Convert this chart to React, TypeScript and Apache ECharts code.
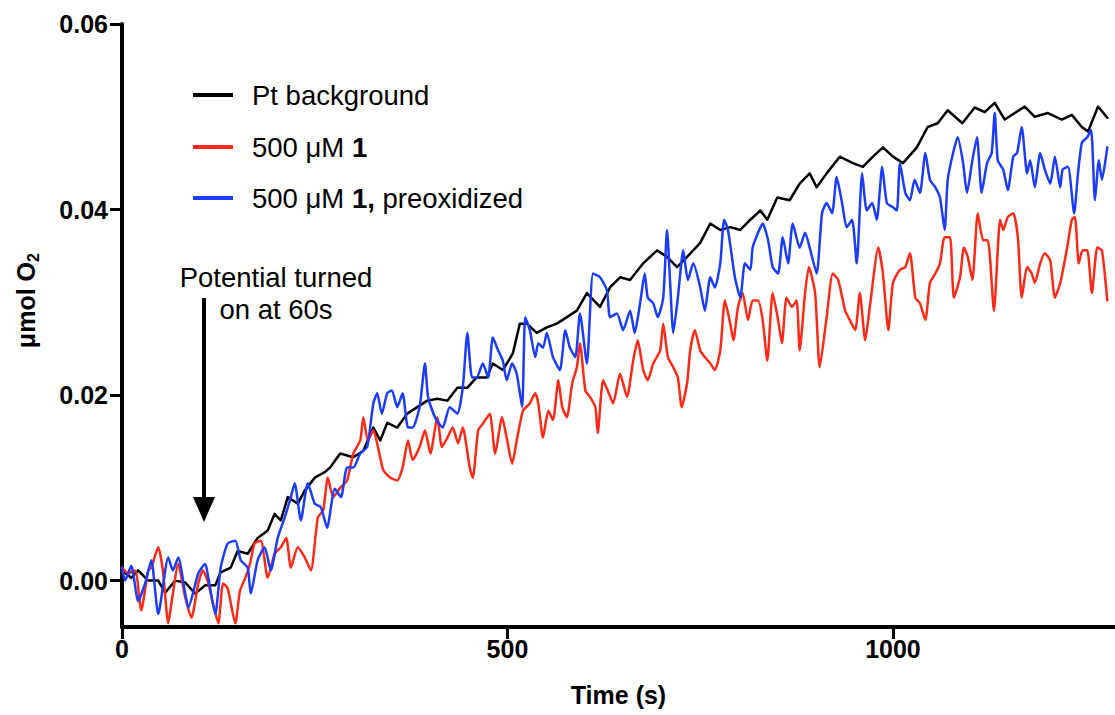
import React, { useEffect, useRef } from "react";
import * as echarts from "echarts";

// Time (s) / µmol O2 pairs
const ptBackground: [number, number][] = [
  [0, 0.0011], [12, 0.0003], [21, 0.0011], [34, 0.0], [47, 0.0], [56, -0.0013], [69, 0.0], [82, -0.0002],
  [95, -0.0014], [108, -0.0005], [121, -0.0005], [128, 0.0009], [141, 0.0014], [150, 0.0032], [163, 0.0029],
  [176, 0.0046], [189, 0.0054], [198, 0.0072], [206, 0.0065], [215, 0.009], [228, 0.0083], [237, 0.0097],
  [250, 0.0111], [263, 0.0117], [270, 0.0122], [283, 0.0137], [300, 0.0133], [313, 0.014], [326, 0.0165],
  [335, 0.0151], [344, 0.017], [357, 0.0165], [370, 0.018], [383, 0.0187], [396, 0.0194], [409, 0.0196],
  [422, 0.0194], [435, 0.0208], [448, 0.0208], [460, 0.0219], [473, 0.0219], [481, 0.0234], [494, 0.0227],
  [507, 0.0245], [516, 0.0277], [525, 0.0277], [538, 0.0267], [551, 0.0273], [564, 0.0277], [577, 0.0284],
  [590, 0.0291], [603, 0.031], [620, 0.0295], [633, 0.0316], [646, 0.0327], [659, 0.0324], [676, 0.0342],
  [694, 0.0356], [707, 0.0349], [720, 0.0338], [733, 0.0349], [750, 0.0364], [763, 0.0385], [776, 0.0378],
  [789, 0.0381], [802, 0.0378], [815, 0.0389], [828, 0.0399], [837, 0.0389], [850, 0.0413], [866, 0.041],
  [879, 0.0428], [892, 0.0439], [901, 0.0424], [914, 0.0439], [931, 0.0457], [948, 0.045], [961, 0.0446],
  [974, 0.0457], [987, 0.0467], [1000, 0.0457], [1013, 0.045], [1031, 0.0467], [1045, 0.0489], [1058, 0.0493],
  [1071, 0.0507], [1090, 0.0493], [1106, 0.051], [1119, 0.0505], [1132, 0.0515], [1145, 0.0497], [1158, 0.0504],
  [1171, 0.0511], [1184, 0.05], [1201, 0.0504], [1219, 0.0497], [1232, 0.0502], [1245, 0.0489], [1253, 0.0484],
  [1266, 0.0511], [1278, 0.0499],
];

const compound1: [number, number][] = [
  [0, 0.0014], [8, 0.0008], [17, 0.0011], [25, -0.0032], [34, 0.0011], [38, 0.0014], [47, 0.0036], [53, 0.0011],
  [60, -0.0046], [64, -0.0025], [73, 0.0018], [82, -0.0018], [90, -0.004], [99, -0.0003], [105, 0.0011],
  [112, -0.0003], [118, -0.0025], [125, -0.0046], [131, -0.0003], [137, -0.0008], [147, -0.0046], [153, -0.0011],
  [160, 0.0003], [166, 0.0018], [172, 0.004], [180, 0.0043], [189, 0.0003], [198, 0.0029], [206, 0.0036],
  [213, 0.0046], [219, 0.0014], [228, 0.0036], [237, 0.0025], [245, 0.0011], [254, 0.0068], [261, 0.0076],
  [267, 0.0111], [274, 0.009], [283, 0.01], [292, 0.0108], [300, 0.0137], [309, 0.0151], [313, 0.0176],
  [319, 0.0151], [326, 0.0162], [332, 0.0144], [339, 0.0119], [348, 0.0111], [357, 0.0108], [364, 0.0122],
  [371, 0.0151], [377, 0.013], [386, 0.0144], [393, 0.0162], [400, 0.0137], [409, 0.0176], [415, 0.0144],
  [422, 0.0154], [429, 0.0165], [436, 0.0148], [442, 0.0165], [451, 0.0122], [455, 0.0111], [462, 0.0162],
  [468, 0.0169], [477, 0.018], [484, 0.0137], [493, 0.0176], [499, 0.0154], [506, 0.0126], [512, 0.0151],
  [520, 0.0183], [529, 0.0191], [536, 0.0202], [540, 0.0191], [546, 0.0154], [553, 0.0183], [559, 0.0173],
  [566, 0.0216], [571, 0.0187], [577, 0.0176], [584, 0.0213], [590, 0.023], [594, 0.0256], [601, 0.0205],
  [607, 0.0198], [614, 0.0187], [617, 0.0159], [624, 0.0216], [630, 0.0205], [637, 0.0191], [646, 0.0223],
  [655, 0.0198], [663, 0.0237], [669, 0.0259], [676, 0.0227], [682, 0.0216], [689, 0.0234], [698, 0.0248],
  [702, 0.0277], [708, 0.0241], [715, 0.023], [721, 0.0219], [726, 0.0187], [733, 0.0213], [737, 0.0248],
  [743, 0.027], [750, 0.0248], [756, 0.0241], [763, 0.0234], [769, 0.0227], [776, 0.0248], [782, 0.0302],
  [789, 0.0277], [793, 0.0259], [799, 0.0295], [805, 0.031], [812, 0.0281], [818, 0.0302], [825, 0.0302],
  [831, 0.0281], [837, 0.0237], [844, 0.031], [851, 0.0281], [856, 0.0256], [862, 0.0305], [869, 0.0295],
  [875, 0.0302], [879, 0.0248], [886, 0.031], [891, 0.0338], [899, 0.031], [905, 0.023], [914, 0.0284],
  [922, 0.0331], [929, 0.0324], [938, 0.0291], [944, 0.0281], [951, 0.027], [957, 0.031], [964, 0.0259],
  [970, 0.0295], [981, 0.0359], [987, 0.0331], [994, 0.027], [1000, 0.0321], [1009, 0.0335], [1016, 0.0338],
  [1022, 0.0353], [1029, 0.0305], [1035, 0.0299], [1042, 0.0281], [1048, 0.0321], [1055, 0.0331],
  [1061, 0.0342], [1067, 0.037], [1074, 0.037], [1079, 0.0305], [1087, 0.0327], [1092, 0.0359], [1097, 0.0349],
  [1103, 0.0324], [1110, 0.0396], [1117, 0.0367], [1123, 0.0367], [1131, 0.0291], [1139, 0.0389],
  [1143, 0.0378], [1149, 0.0392], [1156, 0.0396], [1162, 0.037], [1167, 0.0305], [1174, 0.0338], [1180, 0.0331],
  [1184, 0.0321], [1191, 0.0342], [1197, 0.0353], [1204, 0.0345], [1210, 0.0305], [1217, 0.0321], [1226, 0.0359],
  [1232, 0.0389], [1236, 0.0392], [1241, 0.0342], [1246, 0.0356], [1252, 0.0356], [1258, 0.031], [1265, 0.0359],
  [1271, 0.0356], [1278, 0.0302],
];

const compound1Preox: [number, number][] = [
  [0, 0.0014], [4, 0.0], [12, 0.0016], [21, -0.0022], [30, -0.0003], [38, 0.0022], [47, -0.0036], [60, 0.0025],
  [66, 0.0011], [73, 0.0025], [82, -0.0014], [86, -0.0029], [99, 0.0008], [108, 0.0018], [112, 0.0003],
  [121, -0.0036], [128, 0.0014], [137, 0.004], [147, 0.0043], [154, 0.0022], [163, 0.0014], [167, -0.0014],
  [176, 0.0022], [185, 0.0036], [193, 0.0011], [202, 0.0046], [211, 0.0068], [219, 0.009], [224, 0.0105],
  [232, 0.0065], [241, 0.0105], [250, 0.0083], [258, 0.0079], [266, 0.0057], [276, 0.0099], [284, 0.009],
  [292, 0.0122], [300, 0.0122], [309, 0.0137], [318, 0.0144], [326, 0.0191], [331, 0.0202], [337, 0.018],
  [344, 0.0202], [350, 0.0205], [357, 0.0187], [364, 0.0202], [371, 0.0165], [377, 0.0165], [386, 0.0187],
  [393, 0.0234], [397, 0.0198], [406, 0.0176], [416, 0.0165], [425, 0.0187], [435, 0.018], [442, 0.0208],
  [448, 0.0267], [454, 0.0219], [460, 0.0219], [468, 0.0234], [475, 0.0219], [481, 0.0262], [488, 0.0248],
  [494, 0.0237], [499, 0.0216], [506, 0.0234], [512, 0.0223], [519, 0.0187], [523, 0.0284], [529, 0.027],
  [536, 0.0241], [540, 0.0256], [546, 0.0251], [551, 0.0267], [559, 0.0241], [568, 0.0227], [575, 0.027],
  [581, 0.0251], [588, 0.0241], [594, 0.0288], [603, 0.0234], [611, 0.0331], [620, 0.0327], [629, 0.0313],
  [633, 0.0284], [642, 0.0288], [650, 0.027], [659, 0.0291], [665, 0.0267], [672, 0.0299], [678, 0.0331],
  [682, 0.0305], [689, 0.0299], [695, 0.0284], [702, 0.0305], [707, 0.0378], [711, 0.0321], [715, 0.0267],
  [721, 0.0305], [728, 0.0356], [734, 0.0324], [741, 0.0342], [750, 0.0316], [756, 0.0291], [763, 0.0327],
  [769, 0.0316], [776, 0.0342], [781, 0.0389], [786, 0.0378], [795, 0.0327], [802, 0.0305], [808, 0.0342],
  [815, 0.0335], [818, 0.0359], [825, 0.0375], [831, 0.0385], [838, 0.0367], [844, 0.0338], [851, 0.0331],
  [857, 0.037], [864, 0.0342], [870, 0.0385], [879, 0.0359], [886, 0.0375], [892, 0.0359], [901, 0.0331],
  [908, 0.0396], [914, 0.0407], [921, 0.0396], [927, 0.0435], [934, 0.0407], [940, 0.0381], [947, 0.0389],
  [953, 0.0342], [960, 0.0439], [966, 0.0399], [973, 0.0407], [979, 0.0389], [986, 0.0446], [992, 0.0407],
  [999, 0.0403], [1005, 0.0399], [1009, 0.045], [1016, 0.0418], [1022, 0.041], [1028, 0.0432], [1035, 0.0418],
  [1042, 0.0461], [1048, 0.0432], [1055, 0.0424], [1061, 0.0413], [1067, 0.0378], [1071, 0.0432],
  [1078, 0.0461], [1084, 0.0478], [1091, 0.045], [1096, 0.0418], [1103, 0.0453], [1109, 0.0478], [1115, 0.0418],
  [1122, 0.045], [1128, 0.0461], [1132, 0.0504], [1136, 0.0453], [1143, 0.0443], [1149, 0.0421], [1156, 0.0457],
  [1161, 0.0461], [1167, 0.0489], [1174, 0.0439], [1178, 0.0453], [1184, 0.0424], [1191, 0.0461], [1197, 0.0443],
  [1204, 0.0428], [1210, 0.0457], [1217, 0.0424], [1220, 0.0443], [1227, 0.0446], [1235, 0.0396], [1240, 0.0439],
  [1245, 0.0472], [1252, 0.0478], [1257, 0.0486], [1262, 0.041], [1267, 0.0453], [1271, 0.0432], [1278, 0.0467],
];

const xTicks = [0, 500, 1000];
const yTicks = [0, 0.02, 0.04, 0.06];
const seriesNames = ["Pt background", "500 μM 1", "500 μM 1, preoxidized"];
const seriesColors = ["#000000", "#ff2a17", "#1c3cfb"];

const FONT = "'Liberation Sans', Arial, Helvetica, sans-serif";

export default function App() {
  const ref = useRef<HTMLDivElement>(null);
  useEffect(() => {
    if (!ref.current) return;
    const chart = echarts.init(ref.current, null, { renderer: "svg" });
    const axisLabelStyle = { fontFamily: FONT, fontWeight: "bold" as const, fontSize: 25, color: "#000" };
    const legendRows = [
      { y: 95, text: "{n|Pt background}" },
      { y: 147, text: "{n|500 μM }{b|1}" },
      { y: 198, text: "{n|500 μM }{b|1,}{n| preoxidized}" },
    ];
    const rich = {
      n: { fontFamily: FONT, fontSize: 27.5, color: "#000" },
      b: { fontFamily: FONT, fontSize: 27.5, fontWeight: "bold", color: "#000" },
    };
    const graphic: any[] = [];
    legendRows.forEach((r, i) => {
      graphic.push({
        type: "line",
        shape: { x1: 193, y1: r.y, x2: 233, y2: r.y },
        style: { stroke: seriesColors[i], lineWidth: 4 },
      });
      graphic.push({
        type: "text",
        x: 252,
        y: r.y,
        style: { text: r.text, rich, textVerticalAlign: "middle", textAlign: "left" },
      });
    });
    graphic.push(
      {
        type: "text",
        x: 276,
        y: 277,
        style: { text: "Potential turned", fontFamily: FONT, fontSize: 27.5, fill: "#000", textAlign: "center", textVerticalAlign: "middle" },
      },
      {
        type: "text",
        x: 276,
        y: 309,
        style: { text: "on at 60s", fontFamily: FONT, fontSize: 27.5, fill: "#000", textAlign: "center", textVerticalAlign: "middle" },
      },
      { type: "line", shape: { x1: 204, y1: 298, x2: 204, y2: 500 }, style: { stroke: "#000", lineWidth: 4 } },
      { type: "polygon", shape: { points: [[193, 497], [215, 497], [204, 522]] }, style: { fill: "#000" } },
      {
        type: "text",
        x: 26,
        y: 262,
        rotation: Math.PI / 2,
        style: { text: "μmol O", fontFamily: FONT, fontSize: 25, fontWeight: "bold", fill: "#000", textAlign: "right", textVerticalAlign: "middle" },
      },
      {
        type: "text",
        x: 33,
        y: 262,
        rotation: Math.PI / 2,
        style: { text: "2", fontFamily: FONT, fontSize: 16, fontWeight: "bold", fill: "#000", textAlign: "left", textVerticalAlign: "middle" },
      }
    );

    const datasets = [ptBackground, compound1, compound1Preox];
    chart.setOption({
      animation: false,
      backgroundColor: "#ffffff",
      grid: { left: 122, right: 0, top: 24, bottom: 88, containLabel: false },
      xAxis: {
        type: "value",
        min: 0,
        max: 1288,
        name: "Time (s)",
        nameLocation: "middle",
        nameGap: 55,
        nameTextStyle: { fontFamily: FONT, fontWeight: "bold", fontSize: 25, color: "#000" },
        axisLine: { show: true, onZero: false, lineStyle: { color: "#000", width: 4 } },
        axisTick: { show: true, length: 12, lineStyle: { color: "#000", width: 3 }, customValues: xTicks },
        axisLabel: { ...axisLabelStyle, margin: 9, customValues: xTicks, formatter: (v: number) => String(v) },
        splitLine: { show: false },
      },
      yAxis: {
        type: "value",
        min: -0.005,
        max: 0.06,
        axisLine: { show: true, onZero: false, lineStyle: { color: "#000", width: 4 } },
        axisTick: { show: true, length: 12, lineStyle: { color: "#000", width: 3 }, customValues: yTicks },
        axisLabel: { ...axisLabelStyle, margin: 14, customValues: yTicks, formatter: (v: number) => v.toFixed(2) },
        splitLine: { show: false },
      },
      series: datasets.map((d, i) => ({
        name: seriesNames[i],
        type: "line",
        data: d,
        symbol: "none",
        smooth: i === 0 ? false : 0.2,
        clip: true,
        lineStyle: { color: seriesColors[i], width: 2.5, join: "round", cap: "round" },
        z: 2 + i,
      })),
      graphic,
    });
    return () => chart.dispose();
  }, []);
  return (
    <div
      ref={ref}
      style={{ position: "absolute", left: 0, top: 0, width: 1115, height: 715, background: "#fff" }}
    />
  );
}
